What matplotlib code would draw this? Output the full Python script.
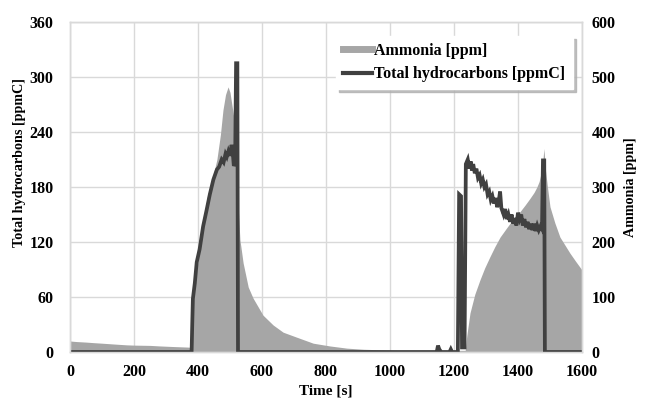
import matplotlib
matplotlib.use("Agg")
import matplotlib.pyplot as plt

# ---- data ----
nh3_time = [0, 20, 50, 73, 100, 150, 177, 200, 250, 281, 320, 365, 380, 383, 386, 400, 416, 430,
            445, 459, 470, 478, 486, 494, 500, 510, 518, 522, 526, 531, 541, 557, 572, 603, 635,
            666, 708, 760, 812, 865, 917, 970, 1021, 1070, 1125, 1180, 1225, 1235, 1240, 1250,
            1265, 1281, 1296, 1312, 1328, 1344, 1360, 1375, 1390, 1406, 1422, 1437, 1450, 1459,
            1466, 1472, 1478, 1481, 1486, 1492, 1500, 1515, 1531, 1546, 1562, 1580, 1600]
nh3_ppm = [20, 19, 18, 17, 16, 14, 13, 12.5, 12, 11, 10, 9, 8.5, 100, 110, 165, 240, 285,
           315, 350, 395, 440, 468, 482, 472, 434, 400, 360, 260, 204, 162, 118, 98, 67, 49,
           36, 27, 16, 11, 7, 5, 4, 3, 3, 3, 3, 3, 3, 30, 71,
           105, 131, 153, 173, 192, 209, 222, 234, 245, 255, 267, 279, 290, 300,
           310, 325, 350, 370, 330, 300, 264, 235, 209, 195, 180, 165, 149]

thc_time = [0, 380, 382, 384, 390, 396, 405, 416, 427, 437, 448, 459, 466, 474, 480, 486, 490,
            495, 500, 505, 508, 512, 516, 519, 523, 525,
            1140, 1146, 1150, 1154, 1160, 1186, 1190, 1194, 1212, 1216, 1222, 1225, 1233, 1237,
            1243, 1248, 1252, 1256, 1260, 1265, 1270, 1275, 1280, 1285, 1290, 1295, 1300, 1305,
            1310, 1315, 1320, 1325, 1330, 1335, 1340, 1344, 1348, 1355, 1360, 1365, 1370, 1375,
            1380, 1385, 1390, 1395, 1400, 1405, 1410, 1415, 1420, 1425, 1430, 1435, 1440, 1445,
            1450, 1455, 1460, 1465, 1470, 1475, 1478, 1482, 1484, 1600]
thc_ppmc = [0, 0, 30, 58, 75, 98, 112, 137, 155, 172, 188, 199, 202, 210, 207, 216, 213,
            219, 214, 226, 220, 203, 206, 315, 315, 0,
            0, 0, 7, 3, 0, 0, 3, 0, 0, 172, 170, 5, 5, 205,
            210, 200, 208, 198, 205, 195, 200, 190, 193, 184, 188, 180, 183, 172,
            175, 166, 170, 162, 168, 158, 165, 175, 157, 150, 156, 145, 150, 142,
            150, 140, 146, 138, 152, 145, 150, 138, 145, 136, 142, 134, 140, 133,
            140, 132, 138, 133, 137, 134, 209, 209, 0, 0]

x_ticks = [0, 200, 400, 600, 800, 1000, 1200, 1400, 1600]
thc_ticks = [0, 60, 120, 180, 240, 300, 360]
nh3_ticks = [0, 100, 200, 300, 400, 500, 600]

# ---- style ----
plt.rcParams['font.family'] = ['Liberation Serif', 'DejaVu Serif']
plt.rcParams['font.weight'] = 'bold'
fs_tick = 11.5
fs_xlab = 11
fs_ylab = 10.2
fs_leg = 11.5

fig = plt.figure(figsize=(6.46, 4.01), dpi=100)
ax = fig.add_axes([70/646, 1-352/401, 512/646, 330/401])
axT = ax.twinx()

grid_c = '#d9d9d9'
fill_c = '#a6a6a6'
line_c = '#404040'

# ammonia (primary axis drawn below, ticks on right)
ax.set_axisbelow(True)
ax.grid(True, color=grid_c, lw=1.0)
ax.fill_between(nh3_time, nh3_ppm, 0, color=fill_c, lw=0, zorder=1)
ax.set_xlim(0, 1600)
ax.set_ylim(0, 600)
ax.set_xticks(x_ticks)
ax.set_yticks(nh3_ticks)
ax.yaxis.tick_right()
ax.yaxis.set_label_position('right')
ax.set_ylabel('Ammonia [ppm]', fontsize=fs_ylab, fontweight='bold', labelpad=6)
ax.set_xlabel('Time [s]', fontsize=fs_xlab, fontweight='bold', labelpad=3)
ax.tick_params(axis='x', length=0, pad=9, labelsize=fs_tick)
ax.tick_params(axis='y', length=0, pad=7, labelsize=fs_tick)

# THC on twin axis, ticks on left
axT.plot(thc_time, thc_ppmc, color=line_c, lw=2.7, solid_joinstyle='miter')
axT.set_ylim(0, 360)
axT.set_yticks(thc_ticks)
axT.yaxis.tick_left()
axT.yaxis.set_label_position('left')
axT.set_ylabel('Total hydrocarbons [ppmC]', fontsize=fs_ylab, fontweight='bold')
axT.yaxis.set_label_coords(-0.085, 0.575)
axT.tick_params(axis='y', length=0, pad=12, labelsize=fs_tick)

for a in (ax, axT):
    for s in a.spines.values():
        s.set_color(grid_c)
        s.set_linewidth(1.0)

# legend
from matplotlib.lines import Line2D
handles = [Line2D([0], [0], color=fill_c, lw=5),
           Line2D([0], [0], color=line_c, lw=3)]
leg = axT.legend(handles, ['Ammonia [ppm]', 'Total hydrocarbons [ppmC]'],
                 loc='upper right', bbox_to_anchor=(0.982, 0.958), borderaxespad=0,
                 frameon=True, fancybox=False, edgecolor='white',
                 shadow={'color': '#b0b0b0', 'alpha': 0.8, 'ox': 2, 'oy': -2},
                 handlelength=1.8, handletextpad=0.15, labelspacing=0.45,
                 borderpad=0.45, prop={'weight': 'bold', 'size': fs_leg})
leg.get_frame().set_alpha(1.0)

fig.savefig('out.png', dpi=100)
